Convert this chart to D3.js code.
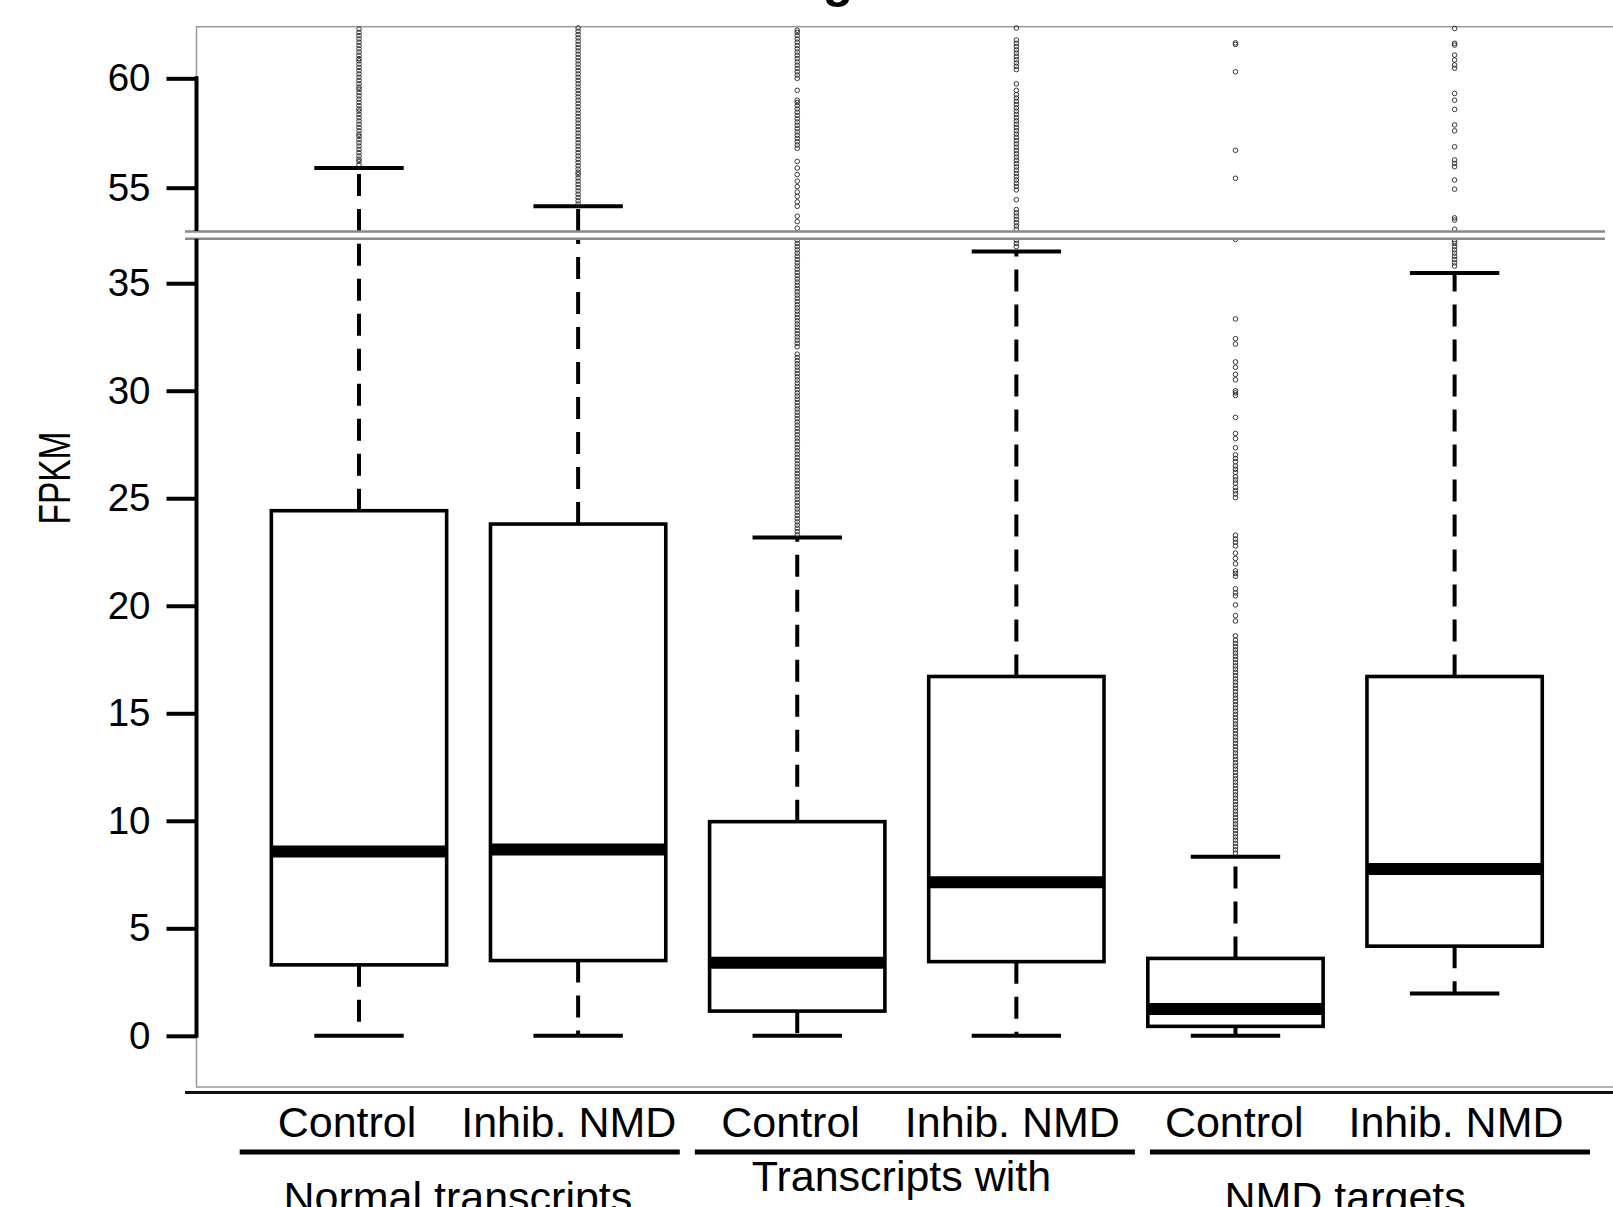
<!DOCTYPE html>
<html>
<head>
<meta charset="utf-8">
<script src="https://cdn.jsdelivr.net/npm/d3@7"></script>
<style>
  body { margin: 0; background: #fff; }
  svg { display: block; }
  .tick text { font-family: "Liberation Sans", Arial, sans-serif; font-size: 38.5px; fill: #000; }
  .etiqueta { font-family: "Liberation Sans", Arial, sans-serif; font-size: 43px; fill: #000; }
</style>
</head>
<body>
<div id="graf"></div>
<script>
// Categorias
const grupos = ["Normal transcripts", "Transcripts with", "NMD targets"]
const condiciones = ["Control", "Inhib. NMD"]
const cajas = ["NT-C", "NT-I", "TW-C", "TW-I", "NMD-C", "NMD-I"]

// Estadisticos de cada caja (FPKM)
const q1 = [3.3, 3.5, 1.15, 3.45, 0.44, 4.17]
const medianas = [8.57, 8.67, 3.4, 7.14, 1.25, 7.76]
const q3 = [24.42, 23.8, 9.96, 16.71, 3.6, 16.71]
const bigoteBajo = [0, 0, 0, 0, 0, 1.97]
const bigoteAlto = [55.9, 54.15, 23.17, 36.48, 8.33, 35.47]

// Valores atipicos
const atipicosNTC = [56.05, 56.2, 56.3, 56.45, 56.6, 56.75, 56.9, 57.05, 57.2, 57.35, 57.45, 57.6, 57.75, 57.9, 58.05, 58.2, 58.35, 58.5, 58.6, 58.75, 58.9, 59.05, 59.2, 59.35, 59.5, 59.6, 59.75, 59.9, 60.05, 60.2, 60.35, 60.5, 60.65, 60.8, 60.9, 61.05, 61.2, 61.35, 61.5, 61.65, 61.8, 61.95, 62.1, 62.25]
const atipicosNTI = [54.25, 54.4, 54.55, 54.7, 54.85, 55.0, 55.15, 55.3, 55.45, 55.6, 55.7, 55.85, 56.0, 56.15, 56.3, 56.45, 56.6, 56.75, 56.9, 57.05, 57.2, 57.35, 57.5, 57.65, 57.8, 57.95, 58.1, 58.25, 58.4, 58.55, 58.7, 58.85, 59.0, 59.15, 59.3, 59.45, 59.6, 59.75, 59.9, 60.05, 60.2, 60.35, 60.5, 60.65, 60.8, 60.95, 61.1, 61.25, 61.4, 61.55, 61.7, 61.85, 62.0, 62.15, 62.3]
const atipicosTWC = [23.3, 23.45, 23.6, 23.75, 23.9, 24.05, 24.2, 24.35, 24.5, 24.65, 24.8, 24.95, 25.1, 25.25, 25.4, 25.55, 25.7, 25.85, 26.0, 26.15, 26.3, 26.45, 26.6, 26.75, 26.9, 27.05, 27.2, 27.35, 27.5, 27.65, 27.8, 27.95, 28.1, 28.25, 28.4, 28.55, 28.7, 28.85, 29.0, 29.15, 29.3, 29.45, 29.6, 29.75, 29.9, 30.05, 30.2, 30.35, 30.5, 30.65, 30.8, 30.95, 31.1, 31.25, 31.4, 31.55, 31.7, 32.05, 32.2, 32.35, 32.5, 32.65, 32.8, 32.95, 33.1, 33.25, 33.4, 33.55, 33.7, 33.85, 34.0, 34.15, 34.3, 34.45, 34.6, 34.75, 34.9, 35.05, 35.2, 35.35, 35.5, 35.65, 35.8, 35.95, 36.1, 36.25, 36.4, 36.55, 36.7, 36.85, 37.0,
  53.15, 53.45, 53.7, 54.15, 54.35, 54.6, 54.8, 55.05, 55.3, 55.6, 55.9, 56.2, 56.8, 56.95, 57.1, 57.25, 57.4, 57.55, 57.7, 57.85, 58.0, 58.15, 58.3, 58.45, 58.6, 58.75, 58.9, 59.0, 59.45, 60.0, 60.15, 60.3, 60.45, 60.6, 60.75, 60.9, 61.05, 61.2, 61.35, 61.5, 61.65, 61.8, 61.95, 62.1, 62.2]
const atipicosTWI = [36.7, 36.85, 37.0, 53.1, 53.25, 53.4, 53.55, 53.7, 53.85, 54.0, 54.45, 54.9, 55.05, 55.2, 55.35, 55.5, 55.65, 55.8, 55.95, 56.1, 56.25, 56.4, 56.55, 56.7, 56.85, 57.0, 57.15, 57.3, 57.45, 57.6, 57.75, 57.9, 58.05, 58.2, 58.35, 58.5, 58.65, 58.8, 58.95, 59.1, 59.25, 59.45, 59.75, 60.4, 60.55, 60.7, 60.85, 61.0, 61.15, 61.3, 61.45, 61.6, 61.75, 62.3]
const atipicosNMDC = [8.5, 8.65, 8.8, 8.95, 9.1, 9.25, 9.4, 9.55, 9.7, 9.85, 10.0, 10.15, 10.3, 10.45, 10.6, 10.75, 10.9, 11.05, 11.2, 11.35, 11.5, 11.65, 11.8, 11.95, 12.1, 12.25, 12.4, 12.55, 12.7, 12.85, 13.0, 13.15, 13.3, 13.45, 13.6, 13.75, 13.9, 14.05, 14.2, 14.35, 14.5, 14.65, 14.8, 14.95, 15.1, 15.25, 15.4, 15.55, 15.7, 15.85, 16.0, 16.15, 16.3, 16.45, 16.6, 16.75, 16.9, 17.05, 17.2, 17.35, 17.5, 17.65, 17.8, 17.95, 18.1, 18.25, 18.4, 18.6,
  19.29, 19.54, 20.04, 20.46, 20.6, 20.79, 21.37, 21.5, 21.62, 21.95, 22.2, 22.45, 22.78, 22.95, 23.1, 23.28, 25.03, 25.2, 25.35, 25.5, 25.7, 25.85, 26.0, 26.2, 26.35, 26.5, 26.7, 26.85, 27.02, 27.35, 27.77, 28.01, 28.76, 29.78, 29.9, 30.0, 30.51, 30.76, 31.09, 31.34, 32.17, 32.42, 33.34, 37.04,
  55.43, 56.71, 60.3, 61.55, 61.62]
const atipicosNMDI = [35.8, 35.95, 36.1, 36.25, 36.4, 36.55, 36.7, 36.85, 36.95, 53.1, 53.52, 53.62, 54.93, 55.35, 55.96, 56.11, 56.27, 56.87, 57.6, 57.87, 58.58, 59.0, 59.31, 60.46, 60.61, 60.84, 61.06, 61.52, 61.6, 62.28]
const atipicos = [atipicosNTC, atipicosNTI, atipicosTWC, atipicosTWI, atipicosNMDC, atipicosNMDI]

// Marcas de los ejes
const ticksArriba = [55, 60]
const ticksAbajo = [0, 5, 10, 15, 20, 25, 30, 35]

const draw = () => {
  const ancho = 1613
  const alto = 1207
  const ejeX = 196.5

  const svg = d3.select("#graf")
    .append("svg")
    .attr("width", ancho)
    .attr("height", alto)

  // Escaladores (eje y partido en dos tramos)
  const yArriba = d3.scaleLinear().domain([53.02, 62.36]).range([231, 26.7])
  const yAbajo = d3.scaleLinear().domain([-2.38, 37.07]).range([1087, 238.7])
  const yValor = (v) => v > yAbajo.domain()[1] ? yArriba(v) : yAbajo(v)

  const x = d3.scalePoint().domain(cajas).range([359, 1454.6])
  const xEtiqueta = d3.scalePoint().domain(cajas).range([347, 1456])
  const xGrupo = d3.scaleBand().domain(grupos).range([239.7, 1590]).paddingInner(0.033).paddingOuter(0)
  const medioCaja = x.step() * 0.4
  const medioTope = x.step() * 0.204

  // Titulo cortado (solo asoma la "g")
  svg.append("text")
    .attr("x", 838)
    .attr("y", -3)
    .attr("text-anchor", "middle")
    .style("font-family", "Liberation Sans, Arial, sans-serif")
    .style("font-weight", "bold")
    .style("font-size", "50px")
    .text("g")

  // Marco
  svg.append("rect")
    .attr("x", ejeX)
    .attr("y", yArriba.range()[1])
    .attr("width", ancho)
    .attr("height", yAbajo.range()[0] - yArriba.range()[1])
    .attr("fill", "none")
    .attr("stroke", "#9a9a9a")
    .attr("stroke-width", 1.5)

  svg.append("line")
    .attr("x1", 185).attr("x2", ancho)
    .attr("y1", 1092.5).attr("y2", 1092.5)
    .attr("stroke", "#111")
    .attr("stroke-width", 3)

  const g = svg.append("g").attr("id", "plot")

  // Bigotes discontinuos
  const datos = cajas.map((c, i) => ({
    caja: c,
    q1: q1[i],
    mediana: medianas[i],
    q3: q3[i],
    bajo: bigoteBajo[i],
    altoV: bigoteAlto[i],
    atipicos: atipicos[i]
  }))

  const maxAbajo = yAbajo.domain()[1]
  const minArriba = yArriba.domain()[0]

  const segmentos = []
  datos.forEach((d) => {
    segmentos.push({ caja: d.caja, y1: yAbajo(d.q1), y2: yAbajo(d.bajo) })
    segmentos.push({ caja: d.caja, y1: yAbajo(d.q3), y2: yAbajo(Math.min(d.altoV, maxAbajo)) })
    if (d.altoV > minArriba) {
      segmentos.push({ caja: d.caja, y1: yArriba(minArriba), y2: yArriba(d.altoV) })
    }
  })

  g.selectAll(".bigote")
    .data(segmentos)
    .enter()
    .append("line")
    .attr("class", "bigote")
    .attr("x1", (d) => x(d.caja))
    .attr("x2", (d) => x(d.caja))
    .attr("y1", (d) => d.y1)
    .attr("y2", (d) => d.y2)
    .attr("stroke", "#000")
    .attr("stroke-width", 4)
    .attr("stroke-dasharray", "22,13")

  // Topes de los bigotes
  const topes = []
  datos.forEach((d) => {
    topes.push({ caja: d.caja, y: yAbajo(d.bajo) })
    topes.push({ caja: d.caja, y: yValor(d.altoV) })
  })

  g.selectAll(".tope")
    .data(topes)
    .enter()
    .append("line")
    .attr("class", "tope")
    .attr("x1", (d) => x(d.caja) - medioTope)
    .attr("x2", (d) => x(d.caja) + medioTope)
    .attr("y1", (d) => d.y)
    .attr("y2", (d) => d.y)
    .attr("stroke", "#000")
    .attr("stroke-width", 4)

  // Cajas
  g.selectAll(".caja")
    .data(datos)
    .enter()
    .append("rect")
    .attr("class", "caja")
    .attr("x", (d) => x(d.caja) - medioCaja)
    .attr("width", medioCaja * 2)
    .attr("y", (d) => yAbajo(d.q3))
    .attr("height", (d) => yAbajo(d.q1) - yAbajo(d.q3))
    .attr("fill", "white")
    .attr("stroke", "#000")
    .attr("stroke-width", 3.6)

  // Medianas
  g.selectAll(".mediana")
    .data(datos)
    .enter()
    .append("line")
    .attr("class", "mediana")
    .attr("x1", (d) => x(d.caja) - medioCaja)
    .attr("x2", (d) => x(d.caja) + medioCaja)
    .attr("y1", (d) => yAbajo(d.mediana))
    .attr("y2", (d) => yAbajo(d.mediana))
    .attr("stroke", "#000")
    .attr("stroke-width", 12)

  // Atipicos
  const puntos = datos.flatMap((d) => d.atipicos.map((v) => ({ caja: d.caja, v })))

  g.selectAll(".atipico")
    .data(puntos)
    .enter()
    .append("circle")
    .attr("class", "atipico")
    .attr("cx", (d) => x(d.caja))
    .attr("cy", (d) => yValor(d.v))
    .attr("r", 2.3)
    .attr("fill", "none")
    .attr("stroke", "#222")
    .attr("stroke-width", 0.9)

  // Corte del eje
  const yCorte1 = yArriba.range()[0] + 0.5
  const yCorte2 = yAbajo.range()[1]
  svg.append("rect")
    .attr("x", 185)
    .attr("y", yCorte1)
    .attr("width", 1420)
    .attr("height", yCorte2 - yCorte1)
    .attr("fill", "white")

  svg.selectAll(".corte")
    .data([yCorte1, yCorte2])
    .enter()
    .append("line")
    .attr("class", "corte")
    .attr("x1", 185).attr("x2", 1605)
    .attr("y1", (d) => d).attr("y2", (d) => d)
    .attr("stroke", "#8a8a8a")
    .attr("stroke-width", 2.5)

  // Ejes
  const ejeArriba = svg.append("g")
    .attr("transform", `translate(${ejeX}, 0)`)
    .call(d3.axisLeft(yArriba).tickValues(ticksArriba).tickSize(30).tickPadding(16))
  const ejeAbajo = svg.append("g")
    .attr("transform", `translate(${ejeX}, 0)`)
    .call(d3.axisLeft(yAbajo).tickValues(ticksAbajo).tickSize(30).tickPadding(16))

  ;[ejeArriba, ejeAbajo].forEach((e) => {
    e.select(".domain").remove()
    e.selectAll(".tick line").attr("stroke", "#000").attr("stroke-width", 4)
  })

  ejeArriba.append("line")
    .attr("y1", yArriba(60) - 2).attr("y2", yArriba.range()[0])
    .attr("stroke", "#000").attr("stroke-width", 4)
  ejeAbajo.append("line")
    .attr("y1", yAbajo.range()[1]).attr("y2", yAbajo(0) + 2)
    .attr("stroke", "#000").attr("stroke-width", 4)

  // Titulo del eje y
  svg.append("text")
    .attr("transform", "translate(70, 478) rotate(-90)")
    .attr("text-anchor", "middle")
    .attr("textLength", 93)
    .attr("lengthAdjust", "spacingAndGlyphs")
    .style("font-family", "Liberation Sans Narrow, Liberation Sans, sans-serif")
    .style("font-size", "45px")
    .text("FPKM")

  // Etiquetas de condicion
  svg.selectAll(".condicion")
    .data(cajas)
    .enter()
    .append("text")
    .attr("class", "etiqueta condicion")
    .attr("x", (d) => xEtiqueta(d))
    .attr("y", 1137)
    .attr("text-anchor", "middle")
    .text((d, i) => condiciones[i % 2])

  // Barras de grupo
  svg.selectAll(".barra")
    .data(grupos)
    .enter()
    .append("line")
    .attr("class", "barra")
    .attr("x1", (d) => xGrupo(d))
    .attr("x2", (d) => xGrupo(d) + xGrupo.bandwidth())
    .attr("y1", 1152).attr("y2", 1152)
    .attr("stroke", "#000")
    .attr("stroke-width", 5)

  // Etiquetas de grupo, centradas entre sus dos condiciones
  svg.selectAll(".grupo")
    .data(grupos)
    .enter()
    .append("text")
    .attr("class", "etiqueta grupo")
    .attr("x", (d, i) => (xEtiqueta(cajas[i * 2]) + xEtiqueta(cajas[i * 2 + 1])) / 2)
    .attr("y", (d) => d === "Transcripts with" ? 1191 : 1212)
    .attr("text-anchor", "middle")
    .text((d) => d)
}

draw()
</script>
</body>
</html>
